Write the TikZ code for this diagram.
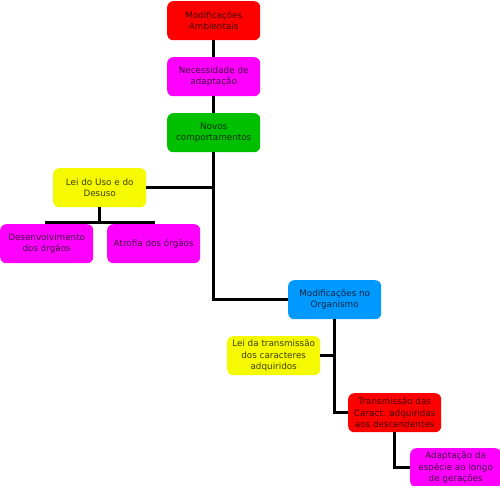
\documentclass[tikz,border=0pt]{standalone}
\usepackage{fontspec}
\setmainfont{DejaVu Sans}
\begin{document}
\begin{tikzpicture}[x=1pt,y=-1pt,
  box/.style={rounded corners=6pt,minimum width=93pt,minimum height=39pt,inner sep=1pt,
    align=center,font=\fontsize{8.8}{11.5}\selectfont,text opacity=0.75,text=black,anchor=north west},
  link/.style={line width=3pt,black}]
\useasboundingbox (0,0) rectangle (500,485);
\definecolor{cred}{RGB}{255,0,0}
\definecolor{cmag}{RGB}{255,0,255}
\definecolor{cgreen}{RGB}{0,192,0}
\definecolor{cyellow}{RGB}{245,250,0}
\definecolor{cblue}{RGB}{0,153,255}
\node[box,fill=cred] (amb) at (167,1) {Modificações\\Ambientais};
\node[box,fill=cmag] (nec) at (167,57) {Necessidade de\\adaptação};
\node[box,fill=cgreen] (nov) at (167,113) {Novos\\comportamentos};
\node[box,fill=cyellow] (lei) at (53,168) {Lei do Uso e do\\Desuso};
\node[box,fill=cmag] (des) at (0,224) {Desenvolvimento\\dos órgãos};
\node[box,fill=cmag] (atr) at (107,224) {Atrofia dos órgãos};
\node[box,fill=cblue] (org) at (288,280) {Modificações no\\Organismo};
\node[box,fill=cyellow] (trl) at (227,336) {Lei da transmissão\\dos caracteres\\adquiridos};
\node[box,fill=cred] (trc) at (348,393) {Transmissão das\\Caract. adquiridas\\aos descendentes};
\node[box,fill=cmag,minimum width=91pt] (ada) at (410,448) {Adaptação da\\espécie ao longo\\de gerações};
\draw[link] (amb.south) -- (nec.north);
\draw[link] (nec.south) -- (nov.north);
\draw[link] (nov.south) -- (nov.south |- org.west) -- (org.west);
\draw[link] (lei.east) -- (lei.east -| nov.south);
\draw[link] (lei.south) -- ++(0,15) coordinate (lj) -- (lj -| des.north) -- (des.north);
\draw[link] (lj) -- (lj -| atr.north) -- (atr.north);
\draw[link] (org.south) -- (org.south |- trc.west) -- (trc.west);
\draw[link] (trl.east) -- (trl.east -| org.south);
\draw[link] (trc.south) -- (trc.south |- ada.west) -- (ada.west);
\end{tikzpicture}
\end{document}
